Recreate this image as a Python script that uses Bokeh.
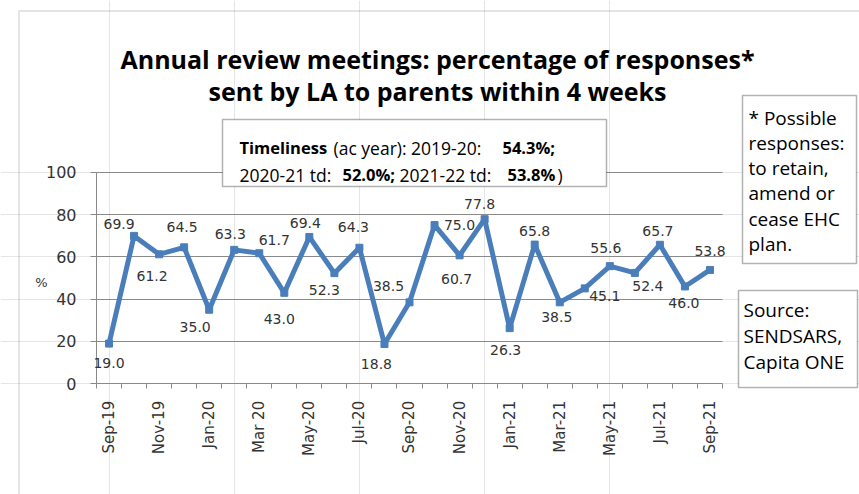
from bokeh.plotting import figure
from bokeh.models import (ColumnDataSource, LabelSet, Label, BoxAnnotation, FixedTicker,
                          LinearAxis, Grid, Range1d)
from bokeh.core.properties import value
from bokeh.embed import file_html
from bokeh.resources import INLINE
import math

# ---------------- data ----------------
months = ["Sep-19", "Oct-19", "Nov-19", "Dec-19", "Jan-20", "Feb-20", "Mar 20", "Apr-20",
          "May-20", "Jun-20", "Jul-20", "Aug-20", "Sep-20", "Oct-20", "Nov-20", "Dec-20",
          "Jan-21", "Feb-21", "Mar-21", "Apr-21", "May-21", "Jun-21", "Jul-21", "Aug-21", "Sep-21"]
values = [19.0, 69.9, 61.2, 64.5, 35.0, 63.3, 61.7, 43.0, 69.4, 52.3, 64.3, 18.8, 38.5,
          75.0, 60.7, 77.8, 26.3, 65.8, 38.5, 45.1, 55.6, 52.4, 65.7, 46.0, 53.8]
y_ticks = [0, 20, 40, 60, 80, 100]

title_lines = ["Annual review meetings: percentage of responses*",
               "sent by LA to parents within 4 weeks"]
note_lines = ["* Possible", "responses:", "to retain,", "amend or", "cease EHC", "plan."]
source_lines = ["Source:", "SENDSARS,", "Capita ONE"]

# data-label placement (screen px offsets; right / down)
label_dx = [0, -15, -7, -2, -14, -4, 15, -5, -4, -10, -6, -8, -21, 25, -3, -5, -4, 0, -3, 20, -4, 13, -2, -1, 0]
label_dy = [19, -12, 22, -20, 17, -16, -13, 26, -14, 17, -21, 20, -16, 0, 24, -15, 22, -14, 15, 8, -18, 13, -14, 17, -19]

# ---------------- layout ----------------
W, H = 859, 494
N = len(months)
AX_L, AX_R = 96.0, 722.0        # pixel span of the category axis
AX_0, AX_100 = 383.3, 171.7     # pixel rows of 0 % and 100 %


def xd(px):  # page px -> data x
    return -0.5 + (px - AX_L) * N / (AX_R - AX_L)


def yd(py):  # page px -> data y
    return 100.0 * (AX_0 - py) / (AX_0 - AX_100)


p = figure(width=W, height=H, x_range=Range1d(xd(0), xd(W)), y_range=Range1d(yd(H), yd(0)),
           output_backend="svg", toolbar_location=None,
           x_axis_location=None, y_axis_location=None, min_border=0)
p.outline_line_color = None
p.background_fill_color = "white"
p.border_fill_color = "white"

GRID = "#8a8a8a"
TXT = "#333333"
CAL = "Open Sans"
xs = list(range(N))

if "cross_bounds" in Grid.properties():
    p.add_layout(Grid(dimension=1, ticker=FixedTicker(ticks=y_ticks[1:]),
                      cross_bounds=(-0.5, N - 0.5), grid_line_color=GRID, grid_line_width=1))
else:
    p.segment(x0=-0.5, x1=N - 0.5, y0=y_ticks[1:], y1=y_ticks[1:],
              line_color=GRID, line_width=1, level="underlay")

yaxis = LinearAxis(fixed_location=-0.5, ticker=FixedTicker(ticks=y_ticks), bounds=(0, 100))
yaxis.axis_line_color = GRID
yaxis.major_tick_line_color = GRID
yaxis.major_tick_out = 6
yaxis.major_tick_in = 0
yaxis.minor_tick_line_color = None
yaxis.major_label_standoff = 14
yaxis.major_label_text_font = "DejaVu Sans"
yaxis.major_label_text_font_size = "16px"
yaxis.major_label_text_color = TXT
p.add_layout(yaxis, "left")

xaxis = LinearAxis(fixed_location=0, bounds=(-0.5, N - 0.5),
                   ticker=FixedTicker(ticks=xs[::2], minor_ticks=[i - 0.5 for i in range(N + 1)]))
xaxis.major_label_overrides = {i: months[i] for i in xs[::2]}
xaxis.axis_line_color = GRID
xaxis.major_tick_out = 0
xaxis.major_tick_in = 0
xaxis.minor_tick_line_color = GRID
xaxis.minor_tick_out = 5
xaxis.minor_tick_in = 0
xaxis.major_label_orientation = math.pi / 2
xaxis.major_label_standoff = 12
xaxis.major_label_text_font = "DejaVu Sans"
xaxis.major_label_text_font_size = "15px"
xaxis.major_label_text_color = TXT
p.add_layout(xaxis, "below")

src = ColumnDataSource(dict(x=xs, y=values, txt=[f"{v:.1f}" for v in values],
                            dx=label_dx, dy=[-d for d in label_dy]))
LINE = "#4A7EBB"
p.line("x", "y", source=src, line_color=LINE, line_width=5, line_join="round")
p.scatter("x", "y", source=src, marker="square", size=7, color=LINE)

p.add_layout(LabelSet(x="x", y="y", text="txt", source=src, x_offset="dx", y_offset="dy",
                      text_align="center", text_baseline="middle",
                      text_font=value("DejaVu Sans"), text_font_size="14px", text_color=TXT))

# outer chart border
p.add_layout(BoxAnnotation(left=xd(18.5), right=xd(1200), top=yd(10.5), bottom=yd(900),
                           fill_alpha=0, line_color="#8c8c8c", line_width=1.5))

# "%" axis caption
p.add_layout(Label(x=xd(41), y=yd(282), text="%", text_align="center", text_baseline="middle",
                   text_font="DejaVu Sans", text_font_size="13px", text_color=TXT))

# title
for i, t in enumerate(title_lines):
    p.add_layout(Label(x=xd(437), y=yd(58 + 32 * i), text=t, text_align="center",
                       text_baseline="alphabetic", text_font=CAL, text_font_style="bold",
                       text_font_size="25px", text_color="black"))

# timeliness box
p.add_layout(BoxAnnotation(left=xd(222), right=xd(606), top=yd(119), bottom=yd(186),
                           fill_color="white", fill_alpha=1, line_color="black", line_width=1.5))
pieces = [
    (239, 147, "Timeliness", "bold"),
    (333, 147, "(ac year): 2019-20:", "normal"),
    (502, 147, "54.3%;", "bold"),
    (239, 174, "2020-21  td:", "normal"),
    (342, 174, "52.0%;", "bold"),
    (399, 174, "2021-22  td:", "normal"),
    (507, 174, "53.8%", "bold"),
    (557, 174, ")", "normal"),
]
for px, py, t, st in pieces:
    p.add_layout(Label(x=xd(px), y=yd(py), text=t, text_align="left", text_baseline="alphabetic",
                       text_font=CAL, text_font_style=st,
                       text_font_size="16.5px" if st == "bold" else "17.5px",
                       text_color="black"))

# footnote box
p.add_layout(BoxAnnotation(left=xd(742), right=xd(856), top=yd(95), bottom=yd(263),
                           fill_color="white", fill_alpha=1, line_color="black", line_width=1.5))
for i, t in enumerate(note_lines):
    p.add_layout(Label(x=xd(748), y=yd(117 + 25.3 * i), text=t, text_align="left",
                       text_baseline="middle", text_font=CAL, text_font_size="19px",
                       text_color="black"))

# source box
p.add_layout(BoxAnnotation(left=xd(738), right=xd(857), top=yd(290), bottom=yd(387),
                           fill_color="white", fill_alpha=1, line_color="black", line_width=1.5))
for i, t in enumerate(source_lines):
    p.add_layout(Label(x=xd(743), y=yd(309 + 26 * i), text=t, text_align="left",
                       text_baseline="middle", text_font=CAL, text_font_size="19px",
                       text_color="black"))

open("out.html", "w").write(file_html(p, INLINE))
